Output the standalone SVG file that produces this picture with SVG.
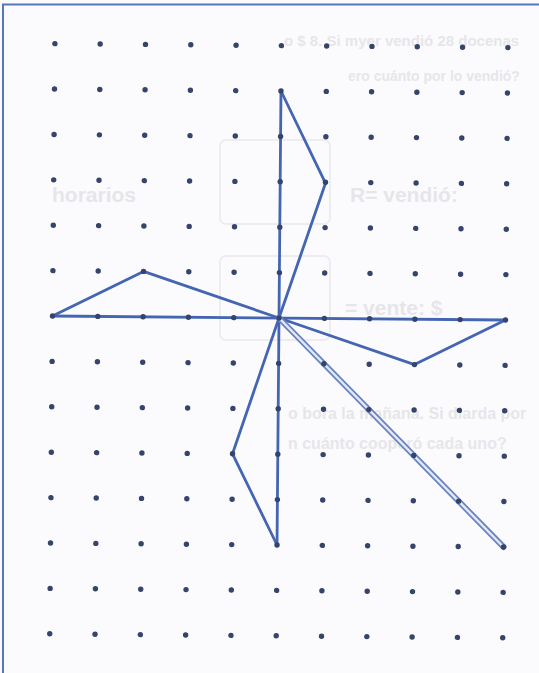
<svg xmlns="http://www.w3.org/2000/svg" width="539" height="673" viewBox="0 0 539 673">
<defs>
<style>
.ghost{font-family:"Liberation Sans",Arial,sans-serif;font-weight:bold;fill:#e6e6ea}
.gbox{fill:none;stroke:#ededf0;stroke-width:2}
.ln{fill:none;stroke:#4466b2;stroke-width:2.8;stroke-linejoin:round;stroke-linecap:round}
.dot{fill:#34446a}
</style>
</defs>
<rect x="0" y="0" width="539" height="673" fill="#fbfbfd"/>
<g id="ghost">
<text class="ghost" x="284" y="46" font-size="15">o $ 8. Si myer vendió 28 docenas</text>
<text class="ghost" x="348" y="81" font-size="14">ero cuánto por lo vendió?</text>
<text class="ghost" x="350" y="202" font-size="21">R= vendió:</text>
<text class="ghost" x="52" y="202" font-size="21">horarios</text>
<text class="ghost" x="345" y="315" font-size="21">= vente: $</text>
<text class="ghost" x="288" y="419" font-size="16">o bora la mañana. Si diarda por</text>
<text class="ghost" x="288" y="449" font-size="16">n cuánto cooperó cada uno?</text>
<rect class="gbox" x="220" y="140" width="110" height="84" rx="6"/>
<rect class="gbox" x="220" y="256" width="110" height="84" rx="6"/>
</g>
<rect id="frame" x="3" y="4.5" width="545" height="685" fill="none" stroke="#5577bb" stroke-width="2"/>
<g transform="rotate(0.5 279 318)">
<g id="connectors">
<polyline class="ln" points="52.5,318 505.5,318"/>
<polyline class="ln" points="279,91 279,545"/>
<polyline class="ln" points="279,91 324.3,182.8 279,318"/>
<polyline class="ln" points="52.5,318 143.1,272.6 279,318"/>
<polyline class="ln" points="505.5,318 414.9,363.4 279,318"/>
<polyline class="ln" points="279,545 233.7,454.2 279,318"/>
<g id="diagonal">
<line x1="279" y1="318" x2="505.5" y2="545" stroke="#6a85c2" stroke-width="6" stroke-linecap="round"/>
<line x1="279" y1="318" x2="505.5" y2="545" stroke="#e4eaf6" stroke-width="2.4" stroke-linecap="round"/>
</g>
</g>
<g id="grid">
<g id="row0" class="dot"><circle cx="52.5" cy="45.6" r="2.7"/><circle cx="97.8" cy="45.6" r="2.7"/><circle cx="143.1" cy="45.6" r="2.7"/><circle cx="188.4" cy="45.6" r="2.7"/><circle cx="233.7" cy="45.6" r="2.7"/><circle cx="279" cy="45.6" r="2.7"/><circle cx="324.3" cy="45.6" r="2.7"/><circle cx="369.6" cy="45.6" r="2.7"/><circle cx="414.9" cy="45.6" r="2.7"/><circle cx="460.2" cy="45.6" r="2.7"/><circle cx="505.5" cy="45.6" r="2.7"/></g>
<g id="row1" class="dot"><circle cx="52.5" cy="91" r="2.7"/><circle cx="97.8" cy="91" r="2.7"/><circle cx="143.1" cy="91" r="2.7"/><circle cx="188.4" cy="91" r="2.7"/><circle cx="233.7" cy="91" r="2.7"/><circle cx="279" cy="91" r="2.7"/><circle cx="324.3" cy="91" r="2.7"/><circle cx="369.6" cy="91" r="2.7"/><circle cx="414.9" cy="91" r="2.7"/><circle cx="460.2" cy="91" r="2.7"/><circle cx="505.5" cy="91" r="2.7"/></g>
<g id="row2" class="dot"><circle cx="52.5" cy="136.4" r="2.7"/><circle cx="97.8" cy="136.4" r="2.7"/><circle cx="143.1" cy="136.4" r="2.7"/><circle cx="188.4" cy="136.4" r="2.7"/><circle cx="233.7" cy="136.4" r="2.7"/><circle cx="279" cy="136.4" r="2.7"/><circle cx="324.3" cy="136.4" r="2.7"/><circle cx="369.6" cy="136.4" r="2.7"/><circle cx="414.9" cy="136.4" r="2.7"/><circle cx="460.2" cy="136.4" r="2.7"/><circle cx="505.5" cy="136.4" r="2.7"/></g>
<g id="row3" class="dot"><circle cx="52.5" cy="181.8" r="2.7"/><circle cx="97.8" cy="181.8" r="2.7"/><circle cx="143.1" cy="181.8" r="2.7"/><circle cx="188.4" cy="181.8" r="2.7"/><circle cx="233.7" cy="181.8" r="2.7"/><circle cx="279" cy="181.8" r="2.7"/><circle cx="324.3" cy="181.8" r="2.7"/><circle cx="369.6" cy="181.8" r="2.7"/><circle cx="414.9" cy="181.8" r="2.7"/><circle cx="460.2" cy="181.8" r="2.7"/><circle cx="505.5" cy="181.8" r="2.7"/></g>
<g id="row4" class="dot"><circle cx="52.5" cy="227.2" r="2.7"/><circle cx="97.8" cy="227.2" r="2.7"/><circle cx="143.1" cy="227.2" r="2.7"/><circle cx="188.4" cy="227.2" r="2.7"/><circle cx="233.7" cy="227.2" r="2.7"/><circle cx="279" cy="227.2" r="2.7"/><circle cx="324.3" cy="227.2" r="2.7"/><circle cx="369.6" cy="227.2" r="2.7"/><circle cx="414.9" cy="227.2" r="2.7"/><circle cx="460.2" cy="227.2" r="2.7"/><circle cx="505.5" cy="227.2" r="2.7"/></g>
<g id="row5" class="dot"><circle cx="52.5" cy="272.6" r="2.7"/><circle cx="97.8" cy="272.6" r="2.7"/><circle cx="143.1" cy="272.6" r="2.7"/><circle cx="188.4" cy="272.6" r="2.7"/><circle cx="233.7" cy="272.6" r="2.7"/><circle cx="279" cy="272.6" r="2.7"/><circle cx="324.3" cy="272.6" r="2.7"/><circle cx="369.6" cy="272.6" r="2.7"/><circle cx="414.9" cy="272.6" r="2.7"/><circle cx="460.2" cy="272.6" r="2.7"/><circle cx="505.5" cy="272.6" r="2.7"/></g>
<g id="row6" class="dot"><circle cx="52.5" cy="318" r="2.7"/><circle cx="97.8" cy="318" r="2.7"/><circle cx="143.1" cy="318" r="2.7"/><circle cx="188.4" cy="318" r="2.7"/><circle cx="233.7" cy="318" r="2.7"/><circle cx="279" cy="318" r="2.7"/><circle cx="324.3" cy="318" r="2.7"/><circle cx="369.6" cy="318" r="2.7"/><circle cx="414.9" cy="318" r="2.7"/><circle cx="460.2" cy="318" r="2.7"/><circle cx="505.5" cy="318" r="2.7"/></g>
<g id="row7" class="dot"><circle cx="52.5" cy="363.4" r="2.7"/><circle cx="97.8" cy="363.4" r="2.7"/><circle cx="143.1" cy="363.4" r="2.7"/><circle cx="188.4" cy="363.4" r="2.7"/><circle cx="233.7" cy="363.4" r="2.7"/><circle cx="279" cy="363.4" r="2.7"/><circle cx="324.3" cy="363.4" r="2.7"/><circle cx="369.6" cy="363.4" r="2.7"/><circle cx="414.9" cy="363.4" r="2.7"/><circle cx="460.2" cy="363.4" r="2.7"/><circle cx="505.5" cy="363.4" r="2.7"/></g>
<g id="row8" class="dot"><circle cx="52.5" cy="408.8" r="2.7"/><circle cx="97.8" cy="408.8" r="2.7"/><circle cx="143.1" cy="408.8" r="2.7"/><circle cx="188.4" cy="408.8" r="2.7"/><circle cx="233.7" cy="408.8" r="2.7"/><circle cx="279" cy="408.8" r="2.7"/><circle cx="324.3" cy="408.8" r="2.7"/><circle cx="369.6" cy="408.8" r="2.7"/><circle cx="414.9" cy="408.8" r="2.7"/><circle cx="460.2" cy="408.8" r="2.7"/><circle cx="505.5" cy="408.8" r="2.7"/></g>
<g id="row9" class="dot"><circle cx="52.5" cy="454.2" r="2.7"/><circle cx="97.8" cy="454.2" r="2.7"/><circle cx="143.1" cy="454.2" r="2.7"/><circle cx="188.4" cy="454.2" r="2.7"/><circle cx="233.7" cy="454.2" r="2.7"/><circle cx="279" cy="454.2" r="2.7"/><circle cx="324.3" cy="454.2" r="2.7"/><circle cx="369.6" cy="454.2" r="2.7"/><circle cx="414.9" cy="454.2" r="2.7"/><circle cx="460.2" cy="454.2" r="2.7"/><circle cx="505.5" cy="454.2" r="2.7"/></g>
<g id="row10" class="dot"><circle cx="52.5" cy="499.6" r="2.7"/><circle cx="97.8" cy="499.6" r="2.7"/><circle cx="143.1" cy="499.6" r="2.7"/><circle cx="188.4" cy="499.6" r="2.7"/><circle cx="233.7" cy="499.6" r="2.7"/><circle cx="279" cy="499.6" r="2.7"/><circle cx="324.3" cy="499.6" r="2.7"/><circle cx="369.6" cy="499.6" r="2.7"/><circle cx="414.9" cy="499.6" r="2.7"/><circle cx="460.2" cy="499.6" r="2.7"/><circle cx="505.5" cy="499.6" r="2.7"/></g>
<g id="row11" class="dot"><circle cx="52.5" cy="545" r="2.7"/><circle cx="97.8" cy="545" r="2.7"/><circle cx="143.1" cy="545" r="2.7"/><circle cx="188.4" cy="545" r="2.7"/><circle cx="233.7" cy="545" r="2.7"/><circle cx="279" cy="545" r="2.7"/><circle cx="324.3" cy="545" r="2.7"/><circle cx="369.6" cy="545" r="2.7"/><circle cx="414.9" cy="545" r="2.7"/><circle cx="460.2" cy="545" r="2.7"/><circle cx="505.5" cy="545" r="2.7"/></g>
<g id="row12" class="dot"><circle cx="52.5" cy="590.4" r="2.7"/><circle cx="97.8" cy="590.4" r="2.7"/><circle cx="143.1" cy="590.4" r="2.7"/><circle cx="188.4" cy="590.4" r="2.7"/><circle cx="233.7" cy="590.4" r="2.7"/><circle cx="279" cy="590.4" r="2.7"/><circle cx="324.3" cy="590.4" r="2.7"/><circle cx="369.6" cy="590.4" r="2.7"/><circle cx="414.9" cy="590.4" r="2.7"/><circle cx="460.2" cy="590.4" r="2.7"/><circle cx="505.5" cy="590.4" r="2.7"/></g>
<g id="row13" class="dot"><circle cx="52.5" cy="635.8" r="2.7"/><circle cx="97.8" cy="635.8" r="2.7"/><circle cx="143.1" cy="635.8" r="2.7"/><circle cx="188.4" cy="635.8" r="2.7"/><circle cx="233.7" cy="635.8" r="2.7"/><circle cx="279" cy="635.8" r="2.7"/><circle cx="324.3" cy="635.8" r="2.7"/><circle cx="369.6" cy="635.8" r="2.7"/><circle cx="414.9" cy="635.8" r="2.7"/><circle cx="460.2" cy="635.8" r="2.7"/><circle cx="505.5" cy="635.8" r="2.7"/></g>
</g>
</g>
</svg>
